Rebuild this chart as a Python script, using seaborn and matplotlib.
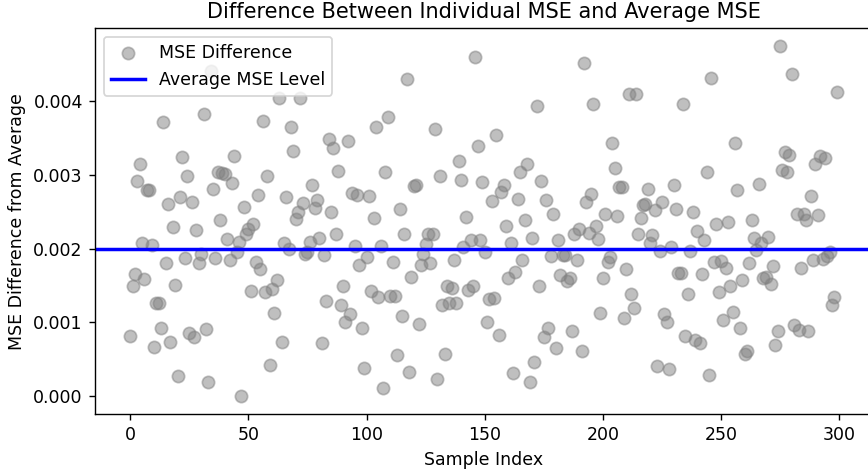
import numpy as np
import pandas as pd
import matplotlib
matplotlib.use("Agg")
import matplotlib.pyplot as plt
import seaborn as sns

# MSE difference values (in units of 1e-3), one per sample index 0..299
mse_diff_e3 = [
    0.82, 1.50, 1.66, 2.91, 3.14, 2.08, 1.59, 2.79, 2.79, 2.05,
    0.67, 1.27, 1.27, 0.93, 3.71, 1.80, 2.60, 0.74, 2.29, 1.51,
    0.27, 2.70, 3.24, 1.87, 2.98, 0.86, 2.63, 0.81, 2.25, 1.80,
    1.93, 3.82, 0.91, 0.19, 4.40, 2.81, 1.87, 3.04, 2.39, 3.02,
    3.01, 2.13, 1.85, 2.89, 3.25, 1.95, 2.09, 0.00, 2.56, 2.20,
    2.27, 1.42, 2.33, 1.82, 2.73, 1.72, 3.73, 1.41, 2.98, 0.42,
    1.45, 1.13, 1.58, 4.04, 0.73, 2.08, 2.70, 2.00, 3.64, 3.32,
    2.40, 2.50, 4.04, 2.61, 1.92, 1.95, 2.09, 2.86, 2.55, 2.65,
    2.14, 0.72, 1.91, 1.29, 3.48, 2.50, 3.36, 2.20, 3.05, 1.24,
    1.50, 1.01, 3.45, 1.12, 2.75, 2.03, 2.72, 1.78, 0.92, 0.38,
    1.89, 2.71, 1.43, 2.41, 3.64, 1.34, 2.04, 0.12, 3.03, 3.78,
    1.36, 1.82, 1.36, 0.56, 2.54, 1.09, 2.20, 4.29, 0.33, 1.61,
    2.85, 2.86, 0.98, 1.78, 1.93, 2.06, 2.19, 1.81, 2.20, 3.61,
    0.24, 2.98, 1.23, 0.57, 1.50, 1.27, 1.46, 1.84, 1.27, 3.18,
    2.92, 2.02, 2.42, 1.44, 2.12, 1.50, 4.59, 3.38, 2.11, 2.90,
    1.95, 1.00, 1.32, 2.64, 1.33, 3.53, 0.83, 2.76, 2.86, 2.31,
    1.60, 2.08, 0.32, 1.68, 2.67, 3.03, 1.85, 2.39, 3.14, 0.19,
    2.14, 0.47, 3.92, 1.50, 2.91, 0.81, 2.65, 0.93, 1.90, 2.46,
    0.65, 2.11, 1.64, 1.91, 1.91, 1.56, 1.60, 0.88, 2.20, 1.84,
    2.26, 0.62, 4.51, 2.63, 2.21, 2.74, 3.95, 2.30, 2.13, 1.13,
    1.60, 2.47, 1.82, 1.88, 3.43, 3.09, 2.44, 2.83, 2.83, 1.06,
    1.72, 4.09, 1.39, 1.19, 4.09, 2.20, 2.41, 2.59, 2.60, 2.81,
    2.08, 2.18, 2.52, 0.41, 1.97, 2.63, 1.12, 1.00, 0.37, 2.02,
    2.86, 2.54, 1.67, 1.67, 3.96, 0.82, 1.39, 1.96, 2.50, 0.76,
    2.24, 0.72, 1.66, 2.12, 3.04, 0.29, 4.30, 1.82, 2.33, 1.41,
    1.83, 1.03, 1.73, 2.36, 1.50, 1.14, 3.42, 2.79, 0.93, 1.57,
    0.58, 0.61, 1.81, 2.39, 2.14, 1.98, 2.87, 2.07, 1.60, 1.61,
    2.16, 1.52, 1.77, 0.70, 0.89, 4.74, 3.06, 3.30, 3.04, 3.27,
    4.36, 0.96, 2.47, 0.90, 1.73, 2.47, 2.38, 0.89, 2.71, 1.84,
    3.14, 2.45, 3.25, 1.86, 3.23, 1.90, 1.95, 1.24, 1.35, 4.12,
]
average_level = 0.002

title = "Difference Between Individual MSE and Average MSE"
xlabel = "Sample Index"
ylabel = "MSE Difference from Average"

df = pd.DataFrame({
    "idx": np.arange(len(mse_diff_e3)),
    "diff": np.array(mse_diff_e3) * 1e-3,
})

DPI = 125
fig = plt.figure(figsize=(868 / DPI, 475 / DPI), dpi=DPI)
ax = fig.add_axes([95 / 868, 61 / 475, (872 - 95) / 868, (414 - 28.3) / 475])

sns.scatterplot(data=df, x="idx", y="diff", ax=ax, color="gray", alpha=0.5,
                s=50, edgecolor="gray", linewidth=1.0, label="MSE Difference")
ax.axhline(average_level, color="blue", linewidth=2.0, label="Average MSE Level")

ax.set_title(title, fontsize=12)
ax.set_xlabel(xlabel, fontsize=10)
ax.set_ylabel(ylabel, fontsize=10)
ax.legend(loc="upper left", fontsize=10)
ax.set_xticks([0, 50, 100, 150, 200, 250, 300])
ax.set_yticks([0.000, 0.001, 0.002, 0.003, 0.004])
ax.set_yticklabels(["0.000", "0.001", "0.002", "0.003", "0.004"])

fig.savefig("out.png", dpi=DPI)
